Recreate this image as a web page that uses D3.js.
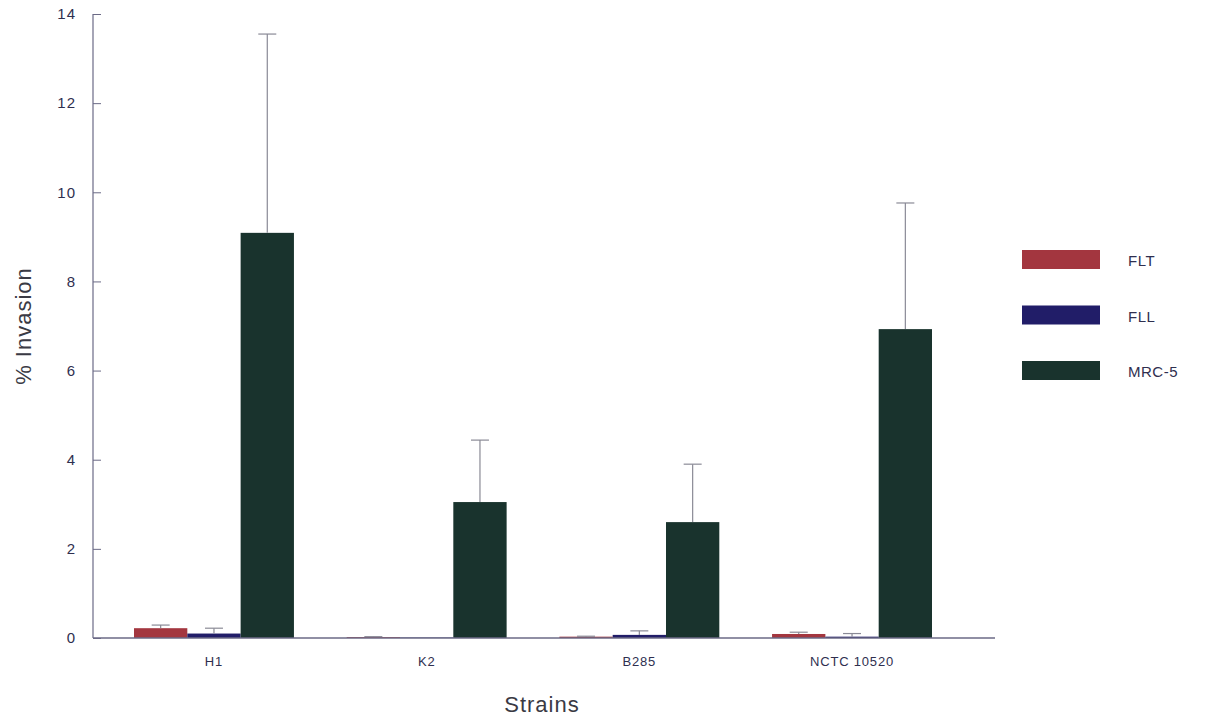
<!DOCTYPE html>
<html>
<head>
<meta charset="utf-8">
<script src="https://cdn.jsdelivr.net/npm/d3@7/dist/d3.min.js"></script>
<style>
  html, body { margin: 0; padding: 0; background: #fff; }
  svg { display: block; }
  text { font-family: "Liberation Sans", Arial, Helvetica, sans-serif; }
</style>
</head>
<body>
<svg id="chart" width="1205" height="721"></svg>
<script>
// Strains tested and the cell lines each was invaded into
const strains = ["H1", "K2", "B285", "NCTC 10520"];
const cellLines = ["FLT", "FLL", "MRC-5"];

// Mean % invasion per strain, one array per cell line
const fltMeans = [0.22, 0.02, 0.03, 0.09];
const fllMeans = [0.10, 0.01, 0.07, 0.03];
const mrc5Means = [9.09, 3.05, 2.60, 6.93];

// Upper error (SD) per strain, per cell line
const fltErr = [0.07, 0.01, 0.01, 0.04];
const fllErr = [0.12, 0.00, 0.09, 0.07];
const mrc5Err = [4.46, 1.39, 1.30, 2.83];

const yTicks = [0, 2, 4, 6, 8, 10, 12, 14];

const colors = { "FLT": "#a3363f", "FLL": "#211d68", "MRC-5": "#19332d" };

const means = { "FLT": fltMeans, "FLL": fllMeans, "MRC-5": mrc5Means };
const errs = { "FLT": fltErr, "FLL": fllErr, "MRC-5": mrc5Err };

const rows = [];
strains.forEach((s, i) => {
  cellLines.forEach(c => rows.push({ strain: s, line: c, value: means[c][i], err: errs[c][i] }));
});

const svg = d3.select("#chart");
const axisLeft = 93, axisRight = 995, baseY = 638, topY = 14;

const y = d3.scaleLinear().domain([0, 14]).range([baseY, topY]);

const x0 = d3.scaleBand()
  .domain(strains)
  .range([134, 932])
  .paddingInner(0.248)
  .paddingOuter(0);

const x1 = d3.scaleBand()
  .domain(cellLines)
  .range([0, x0.bandwidth()])
  .padding(0);

const axisColor = "#6b6a86";
const textColor = "#2f2f4f";

// Bars
const g = svg.append("g");
g.selectAll("rect.bar")
  .data(rows)
  .join("rect")
  .attr("class", "bar")
  .attr("x", d => x0(d.strain) + x1(d.line))
  .attr("width", x1.bandwidth())
  .attr("y", d => y(d.value))
  .attr("height", d => baseY - y(d.value))
  .attr("fill", d => colors[d.line]);

// Error bars (upper only)
const eb = g.selectAll("g.err")
  .data(rows.filter(d => d.err > 0))
  .join("g")
  .attr("class", "err")
  .attr("stroke", "#8a8a96")
  .attr("stroke-width", 1.2);
eb.append("line")
  .attr("x1", d => x0(d.strain) + x1(d.line) + x1.bandwidth() / 2)
  .attr("x2", d => x0(d.strain) + x1(d.line) + x1.bandwidth() / 2)
  .attr("y1", d => y(d.value))
  .attr("y2", d => y(d.value + d.err));
eb.append("line")
  .attr("x1", d => x0(d.strain) + x1(d.line) + x1.bandwidth() / 2 - 9)
  .attr("x2", d => x0(d.strain) + x1(d.line) + x1.bandwidth() / 2 + 9)
  .attr("y1", d => y(d.value + d.err))
  .attr("y2", d => y(d.value + d.err));

// Y axis with inward ticks
const yAxis = svg.append("g")
  .attr("transform", `translate(${axisLeft},0)`)
  .call(d3.axisRight(y).tickValues(yTicks).tickSize(8).tickFormat(d3.format("d")));
yAxis.select(".domain").remove();
yAxis.selectAll(".tick line").attr("stroke", axisColor).attr("stroke-width", 1);
yAxis.selectAll(".tick text")
  .attr("x", -17)
  .attr("text-anchor", "end")
  .attr("fill", textColor)
  .style("font-size", "15px")
  .style("letter-spacing", "1px");
svg.append("line")
  .attr("x1", axisLeft).attr("x2", axisLeft)
  .attr("y1", topY).attr("y2", baseY)
  .attr("stroke", axisColor).attr("stroke-width", 1.2);

// X axis: baseline and strain labels
svg.append("line")
  .attr("x1", axisLeft).attr("x2", axisRight)
  .attr("y1", baseY).attr("y2", baseY)
  .attr("stroke", axisColor).attr("stroke-width", 1.5);
const xAxis = svg.append("g")
  .attr("transform", `translate(0,${baseY})`)
  .call(d3.axisBottom(x0).tickSize(0).tickPadding(19));
xAxis.select(".domain").remove();
xAxis.selectAll(".tick text")
  .attr("fill", textColor)
  .style("font-size", "13px")
  .style("letter-spacing", "0.8px");

// Axis titles
svg.append("text")
  .attr("x", 542).attr("y", 712)
  .attr("text-anchor", "middle")
  .attr("fill", "#3a3a44")
  .style("font-size", "22px")
  .style("letter-spacing", "1px")
  .text("Strains");
svg.append("text")
  .attr("transform", "translate(31,326) rotate(-90)")
  .attr("text-anchor", "middle")
  .attr("fill", "#3a3a44")
  .style("font-size", "22px")
  .style("letter-spacing", "1px")
  .text("% Invasion");

// Legend
const legend = svg.append("g").attr("transform", "translate(1022,250)");
const li = legend.selectAll("g")
  .data(cellLines)
  .join("g")
  .attr("transform", (d, i) => `translate(0,${i * 55.5})`);
li.append("rect")
  .attr("width", 78).attr("height", 19)
  .attr("fill", d => colors[d]);
li.append("text")
  .attr("x", 106).attr("y", 16)
  .attr("fill", textColor)
  .style("font-size", "15px")
  .style("letter-spacing", "0.5px")
  .text(d => d);
</script>
</body>
</html>
